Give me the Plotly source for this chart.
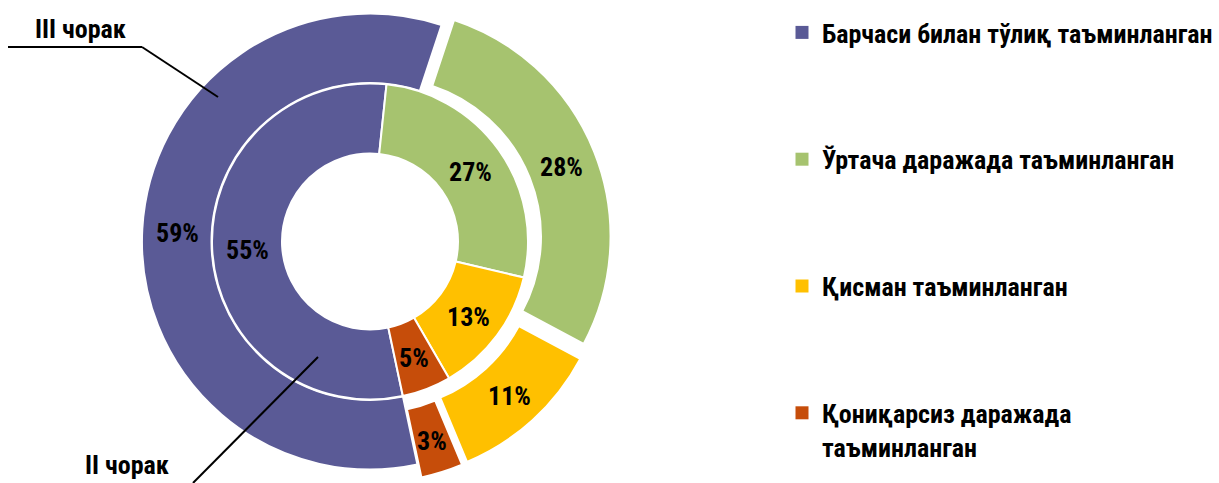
import math
import plotly.graph_objects as go

# ---- data ----
categories = [
    "Барчаси билан тўлиқ таъминланган",
    "Ўртача даражада таъминланган",
    "Қисман таъминланган",
    "Қониқарсиз даражада<br>таъминланган",
]
quarter_III = [59, 28, 11, 3]   # outer ring
quarter_II = [55, 27, 13, 5]    # inner ring
ring_names = ["III чорак", "II чорак"]

# ---- style ----
colors = ["#5A5A96", "#A6C36F", "#FFC000", "#C64D0A"]
W, H = 1219, 483
FONT = "Roboto Condensed, Open Sans Condensed, Liberation Sans, sans-serif"
FS = 26
ROT = 168
outer_pull = [0, 0.059, 0.059, 0.059]

cx, cy = 370, 241.5            # pie centre in pixels
r_out = (H / 2) / (1 + max(outer_pull))   # plotly shrinks radius by max pull
r_in = 158
hole_in = 88 / r_in
hole_out = 0.695


def px(x, y):
    return x / W, 1 - y / H


fig = go.Figure()

fig.add_trace(go.Pie(
    labels=categories, values=quarter_III, name=ring_names[0],
    sort=False, direction="clockwise", rotation=ROT,
    hole=hole_out, pull=outer_pull,
    marker=dict(colors=colors, line=dict(color="white", width=2)),
    textinfo="none",
    domain=dict(x=[(cx - H / 2) / W, (cx + H / 2) / W], y=[0, 1]),
    showlegend=False, hoverinfo="skip",
))

fig.add_trace(go.Pie(
    labels=categories, values=quarter_II, name=ring_names[1],
    sort=False, direction="clockwise", rotation=ROT,
    hole=hole_in,
    marker=dict(colors=colors, line=dict(color="white", width=2)),
    textinfo="none",
    domain=dict(x=[(cx - r_in) / W, (cx + r_in) / W],
                y=[1 - (cy + r_in) / H, 1 - (cy - r_in) / H]),
    showlegend=False, hoverinfo="skip",
))

# legend entries
for i, (cat, col) in enumerate(zip(categories, colors)):
    fig.add_trace(go.Scatter(
        x=[None], y=[None], mode="markers", name=cat,
        marker=dict(symbol="square", size=13, color=col),
        legendgroup=f"g{i}", showlegend=True, hoverinfo="skip",
    ))

annotations = []
label_font = dict(family=FONT, size=FS, color="black", weight="bold")


def ring_labels(values, r0, r1, pulls):
    total = sum(values)
    cum = 0
    for v, p in zip(values, pulls):
        ang = math.radians(ROT + (cum + v / 2) / total * 360)
        rad = (r0 + r1) / 2 + p * r1
        x = cx + rad * math.sin(ang)
        y = cy - rad * math.cos(ang)
        ax, ay = px(x, y)
        annotations.append(dict(text=f"{v}%", x=ax, y=ay, xref="paper", yref="paper",
                                xanchor="center", yanchor="middle", showarrow=False,
                                yshift=-2, font=label_font))
        cum += v


ring_labels(quarter_III, r_out * hole_out, r_out, outer_pull)
ring_labels(quarter_II, r_in * hole_in, r_in, [0] * len(quarter_II))

# ring captions with leader lines
shapes = []


def seg(p, q):
    x0, y0 = px(*p)
    x1, y1 = px(*q)
    shapes.append(dict(type="line", xref="paper", yref="paper",
                       x0=x0, y0=y0, x1=x1, y1=y1,
                       line=dict(color="black", width=2)))


seg((8, 47), (142, 47))
seg((142, 47), (218, 97))
seg((193, 483), (318, 357))

a1x, a1y = px(80, 29)
a2x, a2y = px(127, 465)
annotations += [
    dict(text=ring_names[0], x=a1x, y=a1y, xref="paper", yref="paper",
         xanchor="center", yanchor="middle", showarrow=False, font=label_font),
    dict(text=ring_names[1], x=a2x, y=a2y, xref="paper", yref="paper",
         xanchor="center", yanchor="middle", showarrow=False, font=label_font),
]

fig.update_layout(
    width=W, height=H,
    margin=dict(l=0, r=0, t=0, b=0, autoexpand=False),
    paper_bgcolor="white", plot_bgcolor="white",
    xaxis=dict(visible=False), yaxis=dict(visible=False),
    shapes=shapes, annotations=annotations,
    legend=dict(x=782 / W, y=1 - 9 / H, xanchor="left", yanchor="top",
                tracegroupgap=90, valign="top", traceorder="grouped",
                font=dict(family=FONT, size=26, color="black", weight="bold"),
                itemwidth=30, bgcolor="rgba(0,0,0,0)"),
)

fig.write_html("out.html", config={"displayModeBar": False},
               post_script="document.body.style.margin='0';")
